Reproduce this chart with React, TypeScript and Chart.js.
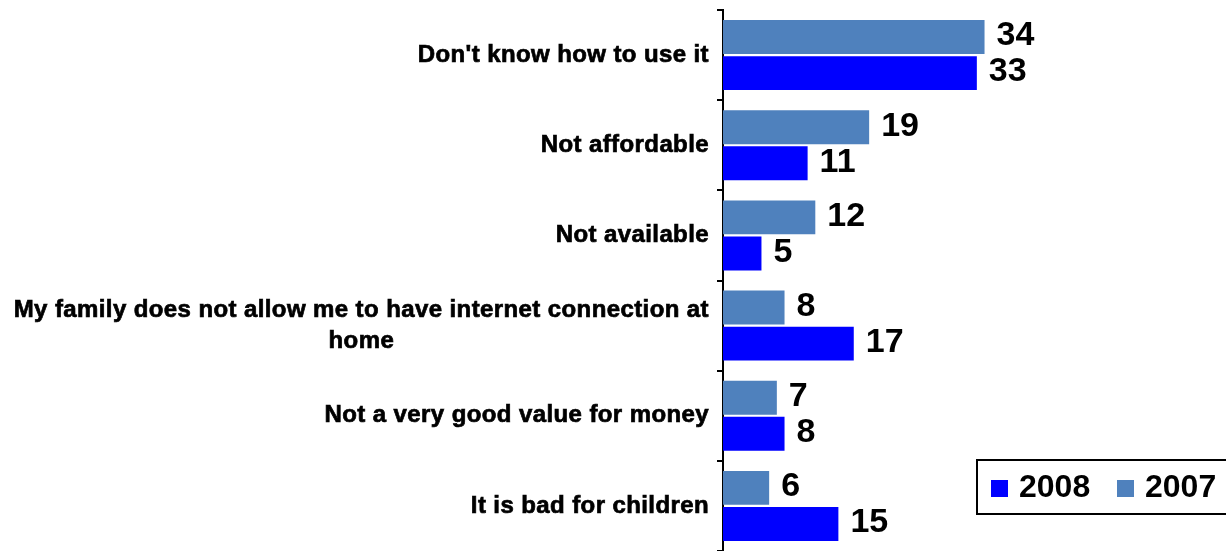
import React, { useEffect, useRef } from "react";
import { Chart, registerables } from "chart.js";

Chart.register(...registerables);

const categories: string[][] = [
  ["Don't know how to use it"],
  ["Not affordable"],
  ["Not available"],
  ["My family does not allow me to have internet connection at", "home"],
  ["Not a very good value for money"],
  ["It is bad for children"],
];
const values2007: number[] = [34, 19, 12, 8, 7, 6];
const values2008: number[] = [33, 11, 5, 17, 8, 15];
const seriesNames: string[] = ["2007", "2008"];
const seriesColors: string[] = ["#4F81BD", "#0000FF"];

const W = 1226;
const H = 551;

const labelsPlugin = {
  id: "customLabels",
  afterDraw(chart: any) {
    const ctx = chart.ctx;
    const yScale = chart.scales.y;
    // Category labels
    ctx.save();
    ctx.fillStyle = "#000";
    ctx.strokeStyle = "#000";
    ctx.lineWidth = 0.7;
    ctx.font = "bold 24px 'Liberation Sans', Arial, sans-serif";
    (ctx as any).letterSpacing = "0.4px";
    ctx.textBaseline = "middle";
    ctx.textAlign = "center";
    const rightEdge = 709;
    const lineH = 31;
    categories.forEach((lines, i) => {
      const yc = yScale.getPixelForValue(i);
      const maxW = Math.max(...lines.map((l) => ctx.measureText(l).width));
      const cx = rightEdge - maxW / 2;
      const y0 = yc - ((lines.length - 1) * lineH) / 2;
      lines.forEach((l, j) => {
        ctx.fillText(l, cx, y0 + j * lineH);
        ctx.strokeText(l, cx, y0 + j * lineH);
      });
    });
    ctx.restore();

    // Data labels
    ctx.save();
    ctx.fillStyle = "#000";
    ctx.font = "bold 34px 'Liberation Sans', Arial, sans-serif";
    ctx.textBaseline = "middle";
    ctx.textAlign = "left";
    chart.data.datasets.forEach((ds: any, di: number) => {
      const meta = chart.getDatasetMeta(di);
      meta.data.forEach((bar: any, i: number) => {
        ctx.fillText(String(ds.data[i]), bar.x + 12, bar.y - 1);
      });
    });
    ctx.restore();

    // Legend
    ctx.save();
    ctx.fillStyle = "#fff";
    ctx.fillRect(976, 459, 260, 55);
    ctx.strokeStyle = "#000";
    ctx.lineWidth = 2;
    ctx.strokeRect(977, 460, 260, 54);
    const items = [
      { name: seriesNames[1], color: seriesColors[1], sq: 991, tx: 1019 },
      { name: seriesNames[0], color: seriesColors[0], sq: 1117, tx: 1145 },
    ];
    ctx.font = "bold 32px 'Liberation Sans', Arial, sans-serif";
    ctx.textBaseline = "middle";
    ctx.textAlign = "left";
    items.forEach((it) => {
      ctx.fillStyle = it.color;
      ctx.fillRect(it.sq, 480, 17, 17);
      ctx.fillStyle = "#000";
      ctx.fillText(it.name, it.tx, 488);
    });
    ctx.restore();
  },
};

export default function App() {
  const ref = useRef<HTMLCanvasElement>(null);
  useEffect(() => {
    if (!ref.current) return;
    const chart = new Chart(ref.current, {
      type: "bar",
      data: {
        labels: categories.map((c) => c.join(" ")),
        datasets: [
          {
            label: seriesNames[0],
            data: values2007,
            backgroundColor: seriesColors[0],
            categoryPercentage: 0.8,
            barPercentage: 0.94,
          },
          {
            label: seriesNames[1],
            data: values2008,
            backgroundColor: seriesColors[1],
            categoryPercentage: 0.8,
            barPercentage: 0.94,
          },
        ],
      },
      options: {
        indexAxis: "y",
        responsive: false,
        animation: false,
        layout: { padding: { top: 10, right: 3, bottom: 0, left: 0 } },
        plugins: {
          legend: { display: false },
          tooltip: { enabled: false },
        },
        scales: {
          x: { display: false, min: 0, max: 65 },
          y: {
            afterFit: (scale: any) => {
              scale.width = 723;
            },
            ticks: { display: false },
            grid: {
              offset: true,
              drawOnChartArea: false,
              drawTicks: true,
              tickLength: 6,
              color: "#000",
              lineWidth: 2,
            },
            border: { display: true, color: "#000", width: 2 },
          },
        },
      },
      plugins: [labelsPlugin],
    });
    return () => chart.destroy();
  }, []);
  return (
    <div style={{ position: "fixed", left: 0, top: 0, width: W, height: H, background: "#fff" }}>
      <canvas ref={ref} width={W} height={H} />
    </div>
  );
}
